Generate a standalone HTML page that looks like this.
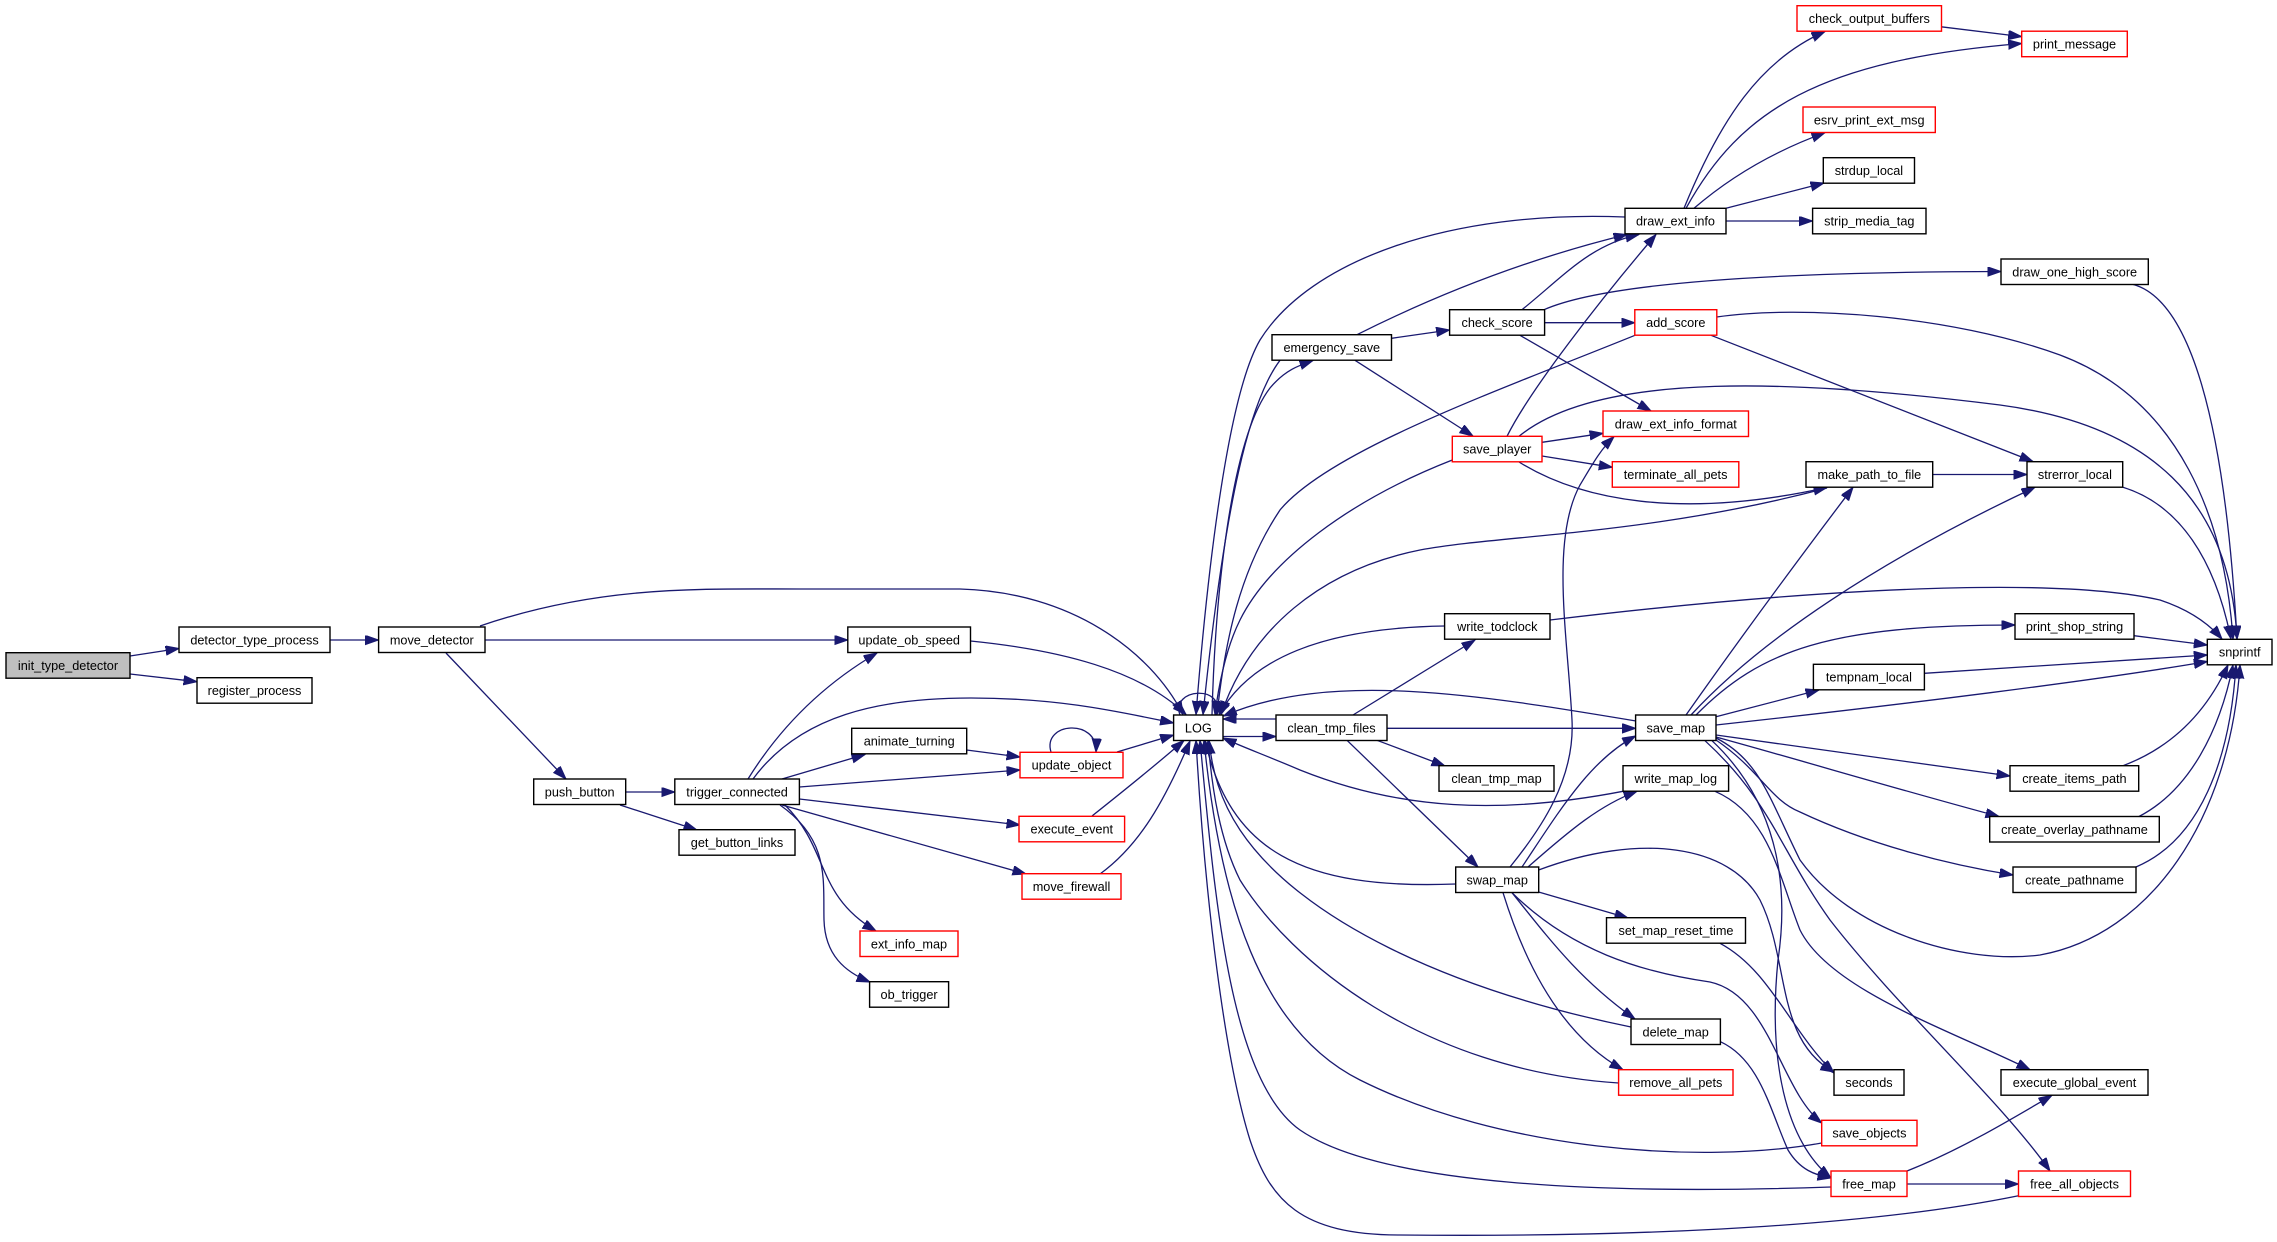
<!DOCTYPE html>
<html><head><meta charset="utf-8"><style>
html,body{margin:0;padding:0;background:#fff;}
svg{display:block;}
text{font-family:"Liberation Sans",Arial,sans-serif;font-size:12.7px;fill:#000;text-anchor:middle;}
.n{fill:#fff;stroke:#000;stroke-width:1.4;}
.r{fill:#fff;stroke:#ff0000;stroke-width:1.4;}
.g{fill:#bfbfbf;stroke:#000;stroke-width:1.4;}
</style></head><body>
<svg width="2277" height="1242" viewBox="0 0 2277 1242" xmlns="http://www.w3.org/2000/svg">
<defs><marker id="a" markerUnits="userSpaceOnUse" markerWidth="15" markerHeight="11" refX="13.5" refY="4.7" orient="auto"><path d="M0,0L13.5,4.7L0,9.4z" fill="#191970" stroke="#191970" stroke-width="1"/></marker></defs>
<g fill="none" stroke="#191970" stroke-width="1.3" marker-end="url(#a)">
<path d="M130,656 L179,648.5"/>
<path d="M130,674 L197,681.7"/>
<path d="M330,640 L378.6,640"/>
<path d="M480,626 C600,585 700,589 800,589 L960,589 C1070,592 1150,650 1183,714.5"/>
<path d="M485,640 L847.8,640"/>
<path d="M446,653 L566,779"/>
<path d="M625.8,792 L674.8,792"/>
<path d="M620,805 L697,830"/>
<path d="M748,779 Q797,700 877,653"/>
<path d="M753,779 C800,715 880,698 971,698 C1060,698 1120,712 1173.6,723"/>
<path d="M782,779 L865,754.5"/>
<path d="M799.4,787 L1020,770"/>
<path d="M799.4,799 L1020,825"/>
<path d="M782,805 L1026,874"/>
<path d="M785,805 C830,850 815,895 876,931"/>
<path d="M780,805 C830,840 823,880 824,920 C825,955 845,972 870,982"/>
<path d="M970.5,641 C1060,650 1140,670 1186,714.5"/>
<path d="M966.6,750 L1020,757"/>
<path d="M1051,752 C1042,722 1098,718 1096,752"/>
<path d="M1117,752 L1173.6,735"/>
<path d="M1092,816 Q1150,770 1184,740.5"/>
<path d="M1100,874 C1140,845 1165,800 1190,741"/>
<path d="M1180,715 C1170,688 1226,684 1216,715"/>
<path d="M1276,719 L1223,719"/>
<path d="M1223,736.5 L1276,736.5"/>
<path d="M1353,715 L1475,640"/>
<path d="M1387,728.3 L1635.6,728.3"/>
<path d="M1377,740.3 L1445,766"/>
<path d="M1347,740.3 L1478,867"/>
<path d="M1456,884 C1300,890 1230,850 1205,740.5"/>
<path d="M1212,715 C1215,600 1230,440 1270,388 C1285,370 1300,365 1313,360.5"/>
<path d="M1280,360.3 C1250,400 1225,500 1203,714.5"/>
<path d="M1625,217 C1450,210 1310,260 1260,340 C1225,400 1205,600 1196,714.5"/>
<path d="M1357,334.7 Q1490,268 1627,234.5"/>
<path d="M1391.5,338.3 L1449.6,330"/>
<path d="M1355,360.3 L1473,436"/>
<path d="M1522,309.7 C1565,275 1590,245 1639,234.5"/>
<path d="M1544.6,322.7 L1634.8,322.7"/>
<path d="M1520,335.3 L1651,411"/>
<path d="M1544,309.7 C1600,285 1750,272 2001,271.5"/>
<path d="M1635,335.3 C1500,390 1330,450 1280,510 C1240,570 1225,640 1217,714.5"/>
<path d="M1716.7,317 C1800,305 1950,315 2060,355 C2180,400 2225,520 2233,639"/>
<path d="M1711,335.3 L2033,461.5"/>
<path d="M1507,436.3 C1530,390 1600,300 1656,234.5"/>
<path d="M1542,442.3 L1603,433.3"/>
<path d="M1542,456 L1612.3,467.3"/>
<path d="M1519,462 C1580,500 1680,520 1827,487.5"/>
<path d="M1519,436.3 C1600,370 1800,380 2000,405 C2150,425 2230,500 2237,639"/>
<path d="M1452.3,460 C1350,500 1270,560 1240,620 C1225,650 1218,690 1215,714.5"/>
<path d="M1636,721 C1480,695 1330,670 1223.5,716"/>
<path d="M1444.6,626 C1320,628 1250,660 1219,714.5"/>
<path d="M1550,620 C1800,590 2050,575 2160,600 C2190,610 2210,625 2222,639"/>
<path d="M1827,488 C1650,535 1500,535 1420,550 C1320,570 1250,630 1221,714.5"/>
<path d="M1932.7,474.5 L2027,474.5"/>
<path d="M1684,208.3 C1720,120 1760,60 1825,31.5"/>
<path d="M1686,208.3 C1740,110 1820,60 2021.7,43.5"/>
<path d="M1694,208.3 Q1750,160 1825,132.7"/>
<path d="M1726,208.3 L1824,183"/>
<path d="M1726,221 L1812.6,221"/>
<path d="M1941.3,26.8 L2021.7,36.6"/>
<path d="M2133,284.4 C2190,300 2225,420 2237,639"/>
<path d="M2123,487.3 C2180,505 2215,560 2231,639"/>
<path d="M2134,635.7 L2207.3,645"/>
<path d="M1924.4,673.3 L2207.3,655"/>
<path d="M1716,725 C1900,705 2100,680 2207.3,661.5"/>
<path d="M2123,765.7 C2170,748 2205,715 2228,665"/>
<path d="M2139,816.5 C2190,790 2220,730 2233,665"/>
<path d="M2136,867 C2200,840 2230,760 2236,665"/>
<path d="M1716,738 C1760,760 1770,800 1800,860 C1850,930 1960,965 2040,955 C2150,935 2230,820 2240,665"/>
<path d="M1716,735 L2010,776"/>
<path d="M1716,737 C1800,760 1900,790 1999,816.5"/>
<path d="M1716,740 C1760,770 1770,800 1800,812 C1870,845 1950,865 2013,875"/>
<path d="M1705,740.7 C1770,800 1780,850 1830,920 C1900,1010 2000,1100 2050,1171"/>
<path d="M1686,715 Q1760,610 1853,487.3"/>
<path d="M1691,715 C1760,640 1880,560 2035,487.3"/>
<path d="M1696,715 C1760,650 1830,625 2015,625"/>
<path d="M1716,716.7 L1819,690"/>
<path d="M1712,740.7 C1775,800 1790,880 1778,960 C1768,1060 1785,1140 1831,1178"/>
<path d="M1522,867 C1560,810 1590,760 1635.6,736"/>
<path d="M1528,867 C1570,830 1600,805 1637,791.3"/>
<path d="M1510,867 C1540,830 1575,780 1572,720 C1568,640 1550,540 1580,485 C1592,465 1600,450 1614,436.7"/>
<path d="M1538.6,892 L1628,918"/>
<path d="M1512,892.7 C1550,940 1580,980 1635,1019"/>
<path d="M1503,892.7 C1530,980 1570,1040 1623,1069.7"/>
<path d="M1538.6,870 C1640,832 1730,845 1760,900 C1790,960 1775,1040 1834,1072"/>
<path d="M1512,892.7 C1570,950 1640,972 1710,982 C1770,995 1780,1090 1821.7,1123"/>
<path d="M1720,943.3 C1770,970 1790,1030 1834,1073"/>
<path d="M1715,791.3 C1770,815 1780,880 1800,930 C1830,990 1950,1030 2030,1069.7"/>
<path d="M1623,791.3 C1500,815 1400,810 1300,770 C1265,755 1245,748 1223,738"/>
<path d="M1631,1027 C1450,990 1300,920 1240,830 C1220,800 1212,770 1209,740.5"/>
<path d="M1720.4,1041.7 C1760,1060 1770,1110 1788,1150 C1800,1170 1815,1175 1831,1178"/>
<path d="M1618.6,1083 C1420,1070 1290,960 1240,880 C1220,840 1212,790 1208,740.5"/>
<path d="M1821.7,1143 C1700,1165 1500,1150 1360,1080 C1260,1030 1220,900 1204,740.5"/>
<path d="M1831,1187 C1600,1195 1380,1185 1300,1130 C1230,1080 1215,900 1200,740.5"/>
<path d="M2018.5,1195.7 C1850,1230 1600,1237 1400,1235 C1300,1235 1270,1200 1250,1140 C1225,1060 1205,900 1196,740.5"/>
<path d="M1907,1171 C1960,1150 2010,1120 2052,1095.3"/>
<path d="M1907,1184 L2018.5,1184"/>
</g>
<g>
<rect class="g" x="6" y="652.7" width="124" height="25.5"/><text x="68" y="670">init_type_detector</text>
<rect class="n" x="179" y="627" width="151" height="25.5"/><text x="254.5" y="644.3">detector_type_process</text>
<rect class="n" x="197" y="677.7" width="115" height="25.5"/><text x="254.5" y="695">register_process</text>
<rect class="n" x="378.6" y="627" width="106.4" height="25.5"/><text x="431.8" y="644.3">move_detector</text>
<rect class="n" x="533.7" y="779" width="92" height="25.5"/><text x="579.7" y="796.3">push_button</text>
<rect class="n" x="674.8" y="779" width="124.6" height="25.5"/><text x="737.1" y="796.3">trigger_connected</text>
<rect class="n" x="679" y="829.7" width="116" height="25.5"/><text x="737" y="847">get_button_links</text>
<rect class="n" x="847.8" y="627" width="122.7" height="25.5"/><text x="909.2" y="644.3">update_ob_speed</text>
<rect class="n" x="851.7" y="728.3" width="115" height="25.5"/><text x="909.2" y="745.6">animate_turning</text>
<rect class="r" x="1020" y="752.3" width="103" height="25.5"/><text x="1071.5" y="769.6">update_object</text>
<rect class="r" x="1019" y="816.3" width="105.6" height="25.5"/><text x="1071.8" y="833.6">execute_event</text>
<rect class="r" x="1022" y="873.7" width="99" height="25.5"/><text x="1071.5" y="891">move_firewall</text>
<rect class="r" x="860" y="931" width="98" height="25.5"/><text x="909" y="948.3">ext_info_map</text>
<rect class="n" x="869.6" y="981.7" width="79" height="25.5"/><text x="909.1" y="999">ob_trigger</text>
<rect class="n" x="1173.6" y="715" width="49.4" height="25.5"/><text x="1198.3" y="732.3">LOG</text>
<rect class="n" x="1276" y="715" width="111" height="25.5"/><text x="1331.5" y="732.3">clean_tmp_files</text>
<rect class="n" x="1272" y="334.7" width="119.5" height="25.5"/><text x="1331.8" y="352">emergency_save</text>
<rect class="n" x="1449.6" y="309.7" width="95" height="25.5"/><text x="1497.1" y="327">check_score</text>
<rect class="r" x="1452.3" y="436.3" width="89.7" height="25.5"/><text x="1497.2" y="453.6">save_player</text>
<rect class="n" x="1444.6" y="613.7" width="105.4" height="25.5"/><text x="1497.3" y="631">write_todclock</text>
<rect class="n" x="1439" y="765.7" width="115" height="25.5"/><text x="1496.5" y="783">clean_tmp_map</text>
<rect class="n" x="1455.7" y="867" width="83" height="25.5"/><text x="1497.2" y="884.3">swap_map</text>
<rect class="n" x="1625" y="208.3" width="101" height="25.5"/><text x="1675.5" y="225.6">draw_ext_info</text>
<rect class="r" x="1634.8" y="309.7" width="82" height="25.5"/><text x="1675.8" y="327">add_score</text>
<rect class="r" x="1603" y="411" width="145.5" height="25.5"/><text x="1675.8" y="428.3">draw_ext_info_format</text>
<rect class="r" x="1612.3" y="461.7" width="126.5" height="25.5"/><text x="1675.6" y="479">terminate_all_pets</text>
<rect class="n" x="1635.6" y="715" width="80.4" height="25.5"/><text x="1675.8" y="732.3">save_map</text>
<rect class="n" x="1623" y="765.7" width="105.6" height="25.5"/><text x="1675.8" y="783">write_map_log</text>
<rect class="n" x="1606.5" y="917.7" width="139" height="25.5"/><text x="1676" y="935">set_map_reset_time</text>
<rect class="n" x="1631" y="1019" width="89.4" height="25.5"/><text x="1675.7" y="1036.3">delete_map</text>
<rect class="r" x="1618.6" y="1069.7" width="114.4" height="25.5"/><text x="1675.8" y="1087">remove_all_pets</text>
<rect class="r" x="1797" y="5.7" width="144.5" height="25.5"/><text x="1869.3" y="23">check_output_buffers</text>
<rect class="r" x="2021.7" y="31.2" width="105.6" height="25.5"/><text x="2074.5" y="48.5">print_message</text>
<rect class="r" x="1803" y="107" width="132.3" height="25.5"/><text x="1869.2" y="124.3">esrv_print_ext_msg</text>
<rect class="n" x="1823.3" y="157.7" width="91.2" height="25.5"/><text x="1868.9" y="175">strdup_local</text>
<rect class="n" x="1812.6" y="208.3" width="113.4" height="25.5"/><text x="1869.3" y="225.6">strip_media_tag</text>
<rect class="n" x="2001" y="259" width="147.3" height="25.5"/><text x="2074.7" y="276.3">draw_one_high_score</text>
<rect class="n" x="1806" y="461.7" width="126.7" height="25.5"/><text x="1869.4" y="479">make_path_to_file</text>
<rect class="n" x="2027" y="461.7" width="95.7" height="25.5"/><text x="2074.9" y="479">strerror_local</text>
<rect class="n" x="2015" y="613.7" width="119" height="25.5"/><text x="2074.5" y="631">print_shop_string</text>
<rect class="n" x="1813.4" y="664.3" width="111" height="25.5"/><text x="1868.9" y="681.6">tempnam_local</text>
<rect class="n" x="2207.3" y="639.3" width="64.7" height="25.5"/><text x="2239.7" y="656.6">snprintf</text>
<rect class="n" x="2010" y="765.7" width="128.7" height="25.5"/><text x="2074.4" y="783">create_items_path</text>
<rect class="n" x="1989.7" y="816.5" width="169.6" height="25.5"/><text x="2074.5" y="833.8">create_overlay_pathname</text>
<rect class="n" x="2013" y="867" width="123" height="25.5"/><text x="2074.5" y="884.3">create_pathname</text>
<rect class="n" x="2001" y="1069.7" width="147" height="25.5"/><text x="2074.5" y="1087">execute_global_event</text>
<rect class="n" x="1834" y="1069.7" width="70" height="25.5"/><text x="1869" y="1087">seconds</text>
<rect class="r" x="1821.7" y="1120.3" width="95.3" height="25.5"/><text x="1869.4" y="1137.6">save_objects</text>
<rect class="r" x="1831" y="1171" width="76" height="25.5"/><text x="1869" y="1188.3">free_map</text>
<rect class="r" x="2018.5" y="1171" width="112" height="25.5"/><text x="2074.5" y="1188.3">free_all_objects</text>
</g>
</svg>
</body></html>
